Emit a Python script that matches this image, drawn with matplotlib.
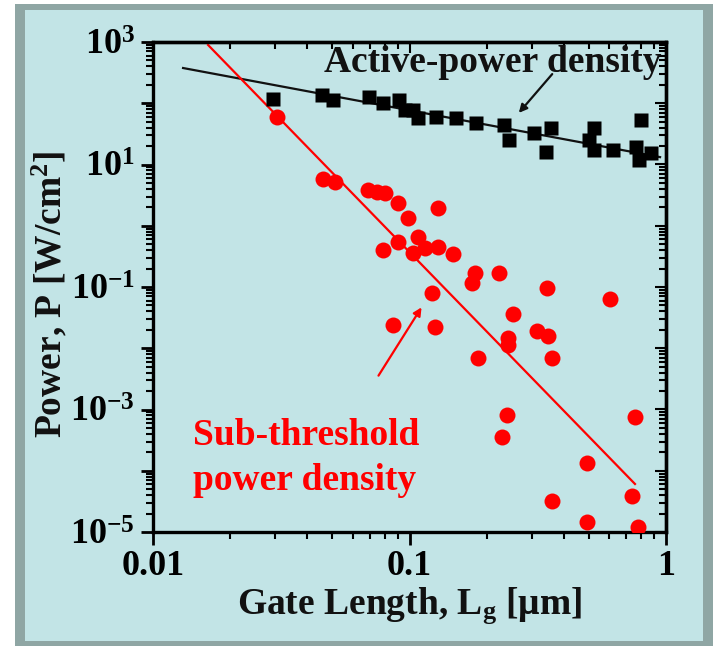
import numpy as np
import matplotlib
matplotlib.use("Agg")
import matplotlib.pyplot as plt
from matplotlib.patches import Rectangle
from matplotlib.ticker import LogLocator, NullFormatter, FuncFormatter, FixedLocator

plt.rcParams['font.family'] = ['Liberation Serif', 'DejaVu Serif']
plt.rcParams['font.weight'] = 'bold'
plt.rcParams['mathtext.fontset'] = 'custom'
plt.rcParams['mathtext.rm'] = 'Liberation Serif:bold'
plt.rcParams['mathtext.bf'] = 'Liberation Serif:bold'
plt.rcParams['mathtext.it'] = 'Liberation Serif:bold:italic'

# active power density (black squares)
active_lg = [0.0294, 0.0456, 0.0503, 0.0695, 0.0788, 0.091, 0.096, 0.1032, 0.108,
             0.1268, 0.1518, 0.1816, 0.2335, 0.2443, 0.3058, 0.3562, 0.3405, 0.524,
             0.501, 0.524, 0.622, 0.799, 0.764, 0.785, 0.874]
active_p = [117, 136, 113, 126, 101, 113, 77.6, 77.6, 57.4,
            59.6, 57.4, 47.6, 44.2, 25.1, 32.7, 39.4, 16.0, 39.4,
            25.1, 17.2, 17.2, 53.3, 19.3, 11.8, 15.4]

# sub-threshold power density (red circles)
sub_lg = [0.0304, 0.046, 0.0512, 0.0689, 0.0747, 0.0803, 0.0902, 0.129, 0.0987,
          0.108, 0.0902, 0.0788, 0.1032, 0.1149, 0.129, 0.1478, 0.180, 0.1753,
          0.2233, 0.1224, 0.3437, 0.605, 0.0862, 0.1257, 0.2533, 0.3142, 0.3467,
          0.2421, 0.2421, 0.185, 0.3594, 0.24, 0.2294, 0.757, 0.492, 0.737,
          0.3594, 0.492, 0.778]
sub_p = [59.6, 5.80, 5.18, 3.83, 3.56, 3.42, 2.35, 1.95, 1.34,
         0.655, 0.543, 0.402, 0.359, 0.433, 0.45, 0.346, 0.169, 0.116,
         0.169, 0.0798, 0.0963, 0.0637, 0.024, 0.0222, 0.0362, 0.0191, 0.0158,
         0.0147, 0.0113, 0.00693, 0.00693, 8.13e-4, 3.56e-4, 7.54e-4, 1.34e-4, 3.87e-5,
         3.21e-5, 1.46e-5, 1.21e-5]

# fitted trend lines (end points)
active_fit_lg = [0.0131, 0.948]
active_fit_p = [376, 13.2]
sub_fit_lg = [0.0164, 0.757]
sub_fit_p = [893, 6.08e-5]

fig = plt.figure(figsize=(7.13, 6.46), dpi=100, facecolor='white')
W, H = 713, 646
fig.patches.append(Rectangle((15 / W, 0), 1 - 15 / W, 1 - 4 / H, transform=fig.transFigure,
                             facecolor='#8fa6a4', edgecolor='none', zorder=-2))
fig.patches.append(Rectangle((25 / W, 5 / H), (703 - 25) / W, (636 - 5) / H, transform=fig.transFigure,
                             facecolor='#c2e4e6', edgecolor='none', zorder=-1))

ax = fig.add_axes([153 / W, 1 - 532 / H, (666 - 153) / W, (532 - 42) / H])
ax.set_facecolor('none')
ax.set_xscale('log')
ax.set_yscale('log')
ax.set_xlim(0.01, 1)
ax.set_ylim(1e-5, 1e3)

ax.plot(active_fit_lg, active_fit_p, color='#111111', lw=1.6, zorder=2)
ax.plot(sub_fit_lg, sub_fit_p, color='red', lw=1.6, zorder=2)
ax.plot(active_lg, active_p, 's', color='black', ms=10, mec='none', zorder=3)
ax.plot(sub_lg, sub_p, 'o', color='red', ms=11.5, mec='none', zorder=3)

for side in ax.spines.values():
    side.set_linewidth(2.4)

ax.xaxis.set_major_locator(FixedLocator([0.01, 0.1, 1]))
ax.xaxis.set_minor_locator(LogLocator(base=10, subs=np.arange(2, 10), numticks=20))
ax.xaxis.set_minor_formatter(NullFormatter())
ax.xaxis.set_major_formatter(FuncFormatter(lambda v, p: {0.01: '0.01', 0.1: '0.1', 1: '1'}.get(round(v, 3), '')))
ax.yaxis.set_major_locator(LogLocator(base=10, subs=(1.0,), numticks=20))
ax.yaxis.set_minor_locator(LogLocator(base=10, subs=np.arange(2, 10), numticks=20))
ax.yaxis.set_minor_formatter(NullFormatter())


def ylab(v, p):
    e = int(round(np.log10(v)))
    if e % 2 == 0:
        return ''
    return r'$\mathbf{10^{%d}}$' % e


ax.yaxis.set_major_formatter(FuncFormatter(ylab))
ax.tick_params(which='major', direction='out', length=9, width=2, labelsize=26, pad=4)
ax.tick_params(which='minor', direction='out', length=5, width=1.5)
ax.tick_params(axis='x', which='major', pad=4)

top = ax.secondary_xaxis('top')
top.xaxis.set_major_locator(FixedLocator([0.01, 0.1, 1]))
top.xaxis.set_minor_locator(LogLocator(base=10, subs=np.arange(2, 10), numticks=20))
top.tick_params(which='both', direction='in', labeltop=False, width=1.5)
top.tick_params(which='major', length=8)
top.tick_params(which='minor', length=5)
top.spines['top'].set_linewidth(2.4)

right = ax.secondary_yaxis('right')
right.yaxis.set_major_locator(LogLocator(base=10, subs=(1.0,), numticks=20))
right.yaxis.set_minor_locator(LogLocator(base=10, subs=np.arange(2, 10), numticks=20))
right.tick_params(which='both', direction='in', labelright=False, width=1.5)
right.tick_params(which='major', length=8)
right.tick_params(which='minor', length=5)
right.spines['right'].set_linewidth(2.4)

ax.text(0.992, 0.939, 'Active-power density', transform=ax.transAxes, ha='right',
        va='baseline', fontsize=27, color='#111111')
ax.annotate('', xy=(0.2625, 64.3), xytext=(0.366, 324),
            arrowprops=dict(arrowstyle='-|>', color='#111111', lw=1.6, mutation_scale=12))
ax.text(0.078, 0.1776, 'Sub-threshold', transform=ax.transAxes, ha='left',
        va='baseline', fontsize=27, color='red')
ax.text(0.078, 0.0857, 'power density', transform=ax.transAxes, ha='left',
        va='baseline', fontsize=27, color='red')
ax.annotate('', xy=(0.1129, 0.0508), xytext=(0.0747, 3.27e-3),
            arrowprops=dict(arrowstyle='-|>', color='red', lw=1.6, mutation_scale=12))

fig.text(410 / W, 1 - 606 / H, r'Gate Length, L$_{\mathbf{g}}$ [μm]', ha='center', va='center',
         fontsize=27, color='#111111')
fig.text(50 / W, 1 - 294 / H, r'Power, P [W/cm$^{\mathbf{2}}$]', ha='center', va='center',
         rotation=90, fontsize=27, color='#111111')

fig.savefig('out.png', dpi=100, facecolor=fig.get_facecolor())
